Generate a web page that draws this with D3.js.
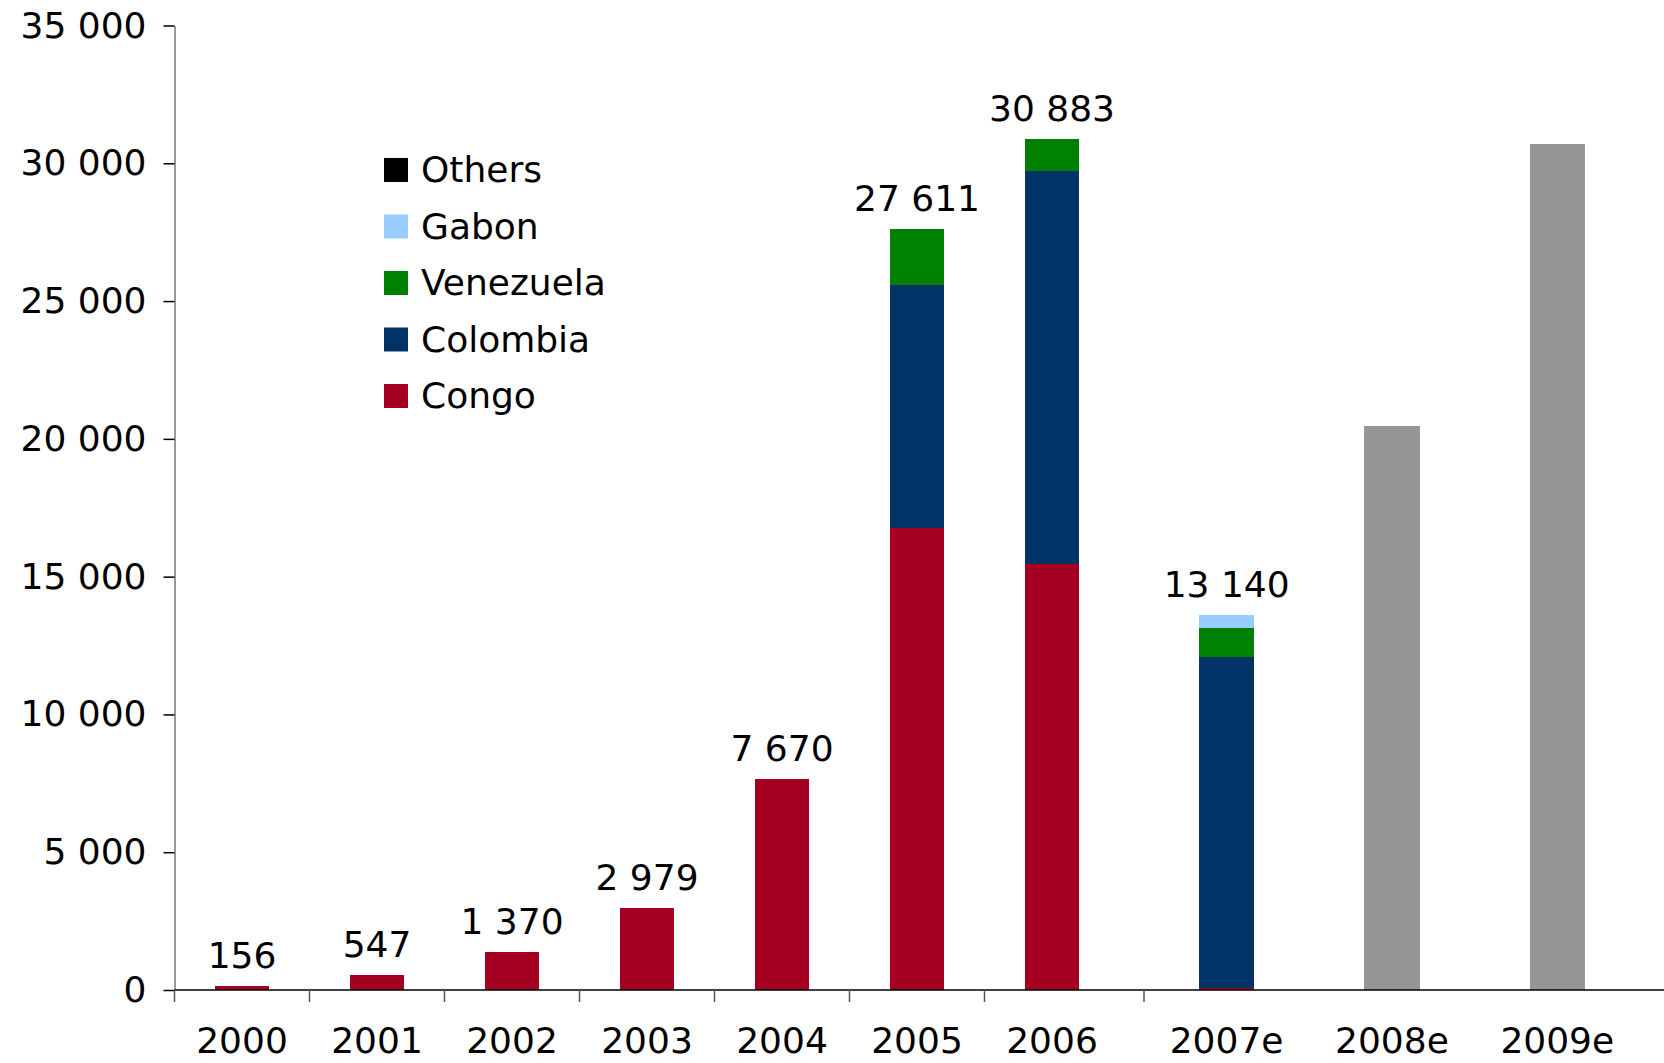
<!DOCTYPE html>
<html>
<head>
<meta charset="utf-8">
<script src="https://cdn.jsdelivr.net/npm/d3@7"></script>
<style>
  body { margin: 0; background: #fff; }
  svg { display: block; font-family: "DejaVu Sans", Verdana, sans-serif; }
</style>
</head>
<body>
<svg></svg>
<script>
const width = 1664;
const height = 1063;

// categories
const years = ["2000", "2001", "2002", "2003", "2004", "2005", "2006"];
const estYears = ["2007e", "2008e", "2009e"];
const series = ["Congo", "Colombia", "Venezuela", "Gabon", "Others"];
const seriesColors = ["#a50021", "#003366", "#008000", "#99ccff", "#000000"];

// stacked values, 2000 .. 2006 then 2007e
const congo     = [156, 547, 1370, 2979, 7670, 16750, 15475, 60];
const colombia  = [0, 0, 0, 0, 0, 8850, 14253, 12020];
const venezuela = [0, 0, 0, 0, 0, 2011, 1155, 1055];
const gabon     = [0, 0, 0, 0, 0, 0, 0, 470];
const others    = [0, 0, 0, 0, 0, 0, 0, 0];
const totalLabels = [156, 547, 1370, 2979, 7670, 27611, 30883, 13140];

// grey estimate bars for 2008e, 2009e
const estimateTotals = [20450, 30700];

const yTicks = [0, 5000, 10000, 15000, 20000, 25000, 30000, 35000];

const fmt = d3.formatLocale({ decimal: ",", thousands: " ", grouping: [3], currency: ["", ""] }).format(",d");

const svg = d3.select("svg")
    .attr("width", width)
    .attr("height", height);

const y = d3.scaleLinear()
    .domain([0, 35000])
    .range([990, 25.5]);

const x0 = d3.scaleBand()
    .domain(years)
    .range([174.5, 1119.5])
    .paddingInner(0.593)
    .paddingOuter(0.2965);

const x1 = d3.scaleBand()
    .domain(estYears)
    .range([1144, 1640])
    .paddingInner(0.667)
    .paddingOuter(0.3335);

const x = c => years.includes(c) ? x0(c) : x1(c);
const bw = x0.bandwidth();

const stackCats = years.concat(["2007e"]);
const rows = stackCats.map((c, i) => ({
    cat: c,
    Congo: congo[i],
    Colombia: colombia[i],
    Venezuela: venezuela[i],
    Gabon: gabon[i],
    Others: others[i]
}));

const stacked = d3.stack().keys(series)(rows);

// bars
svg.append("g")
    .selectAll("g")
    .data(stacked)
    .join("g")
    .attr("fill", (d, i) => seriesColors[i])
    .selectAll("rect")
    .data(d => d.filter(p => p[1] > p[0]))
    .join("rect")
    .attr("x", p => x(p.data.cat))
    .attr("y", p => y(p[1]))
    .attr("width", bw)
    .attr("height", p => y(p[0]) - y(p[1]))
    .attr("shape-rendering", "crispEdges");

const estRows = estYears.slice(1).map((c, i) => ({ cat: c, value: estimateTotals[i] }));

svg.append("g")
    .selectAll("rect")
    .data(estRows)
    .join("rect")
    .attr("x", d => x(d.cat))
    .attr("y", d => y(d.value))
    .attr("width", x1.bandwidth())
    .attr("height", d => y(0) - y(d.value))
    .attr("fill", "#969696")
    .attr("shape-rendering", "crispEdges");

// value labels
svg.append("g")
    .selectAll("text")
    .data(rows)
    .join("text")
    .attr("x", d => x(d.cat) + bw / 2)
    .attr("y", d => y(d.Congo + d.Colombia + d.Venezuela + d.Gabon + d.Others) - 18)
    .attr("text-anchor", "middle")
    .attr("font-size", 36)
    .attr("fill", "#000")
    .text((d, i) => fmt(totalLabels[i]));

// y axis
const yAxis = d3.axisLeft(y)
    .tickValues(yTicks)
    .tickSize(11)
    .tickSizeOuter(0)
    .tickPadding(17)
    .tickFormat(fmt);

const gy = svg.append("g")
    .attr("transform", "translate(174.5,0)")
    .call(yAxis);
gy.select(".domain").attr("stroke", "#777").attr("stroke-width", 1.5);
gy.selectAll(".tick line").attr("stroke", "#000").attr("stroke-width", 1.5);
gy.selectAll(".tick text")
    .attr("font-size", 36)
    .attr("font-family", "DejaVu Sans, Verdana, sans-serif")
    .attr("fill", "#000");

// x axis: line, tick marks, labels
const gx = svg.append("g");
gx.append("line")
    .attr("x1", 174.5)
    .attr("x2", width)
    .attr("y1", y(0))
    .attr("y2", y(0))
    .attr("stroke", "#000")
    .attr("stroke-width", 1.5);

const tickXs = years.map(c => x0(c) - x0.step() * x0.paddingInner() / 2)
    .concat([x1.range()[0]]);

gx.selectAll(".xtick")
    .data(tickXs)
    .join("line")
    .attr("class", "xtick")
    .attr("x1", d => d)
    .attr("x2", d => d)
    .attr("y1", y(0))
    .attr("y2", y(0) + 12)
    .attr("stroke", "#555")
    .attr("stroke-width", 1.5);

gx.selectAll(".xlabel")
    .data(years.concat(estYears))
    .join("text")
    .attr("class", "xlabel")
    .attr("x", d => x(d) + bw / 2)
    .attr("y", 1053)
    .attr("text-anchor", "middle")
    .attr("font-size", 36)
    .attr("fill", "#000")
    .text(d => d);

// legend (reverse order of stacking)
const legendItems = series.map((s, i) => ({ name: s, color: seriesColors[i] })).reverse();

const legend = svg.append("g")
    .attr("transform", "translate(384,158)");

const li = legend.selectAll("g")
    .data(legendItems)
    .join("g")
    .attr("transform", (d, i) => `translate(0, ${i * 56.5})`);

li.append("rect")
    .attr("width", 24)
    .attr("height", 24)
    .attr("fill", d => d.color);

li.append("text")
    .attr("x", 37)
    .attr("y", 24)
    .attr("font-size", 36)
    .attr("fill", "#000")
    .text(d => d.name);
</script>
</body>
</html>
